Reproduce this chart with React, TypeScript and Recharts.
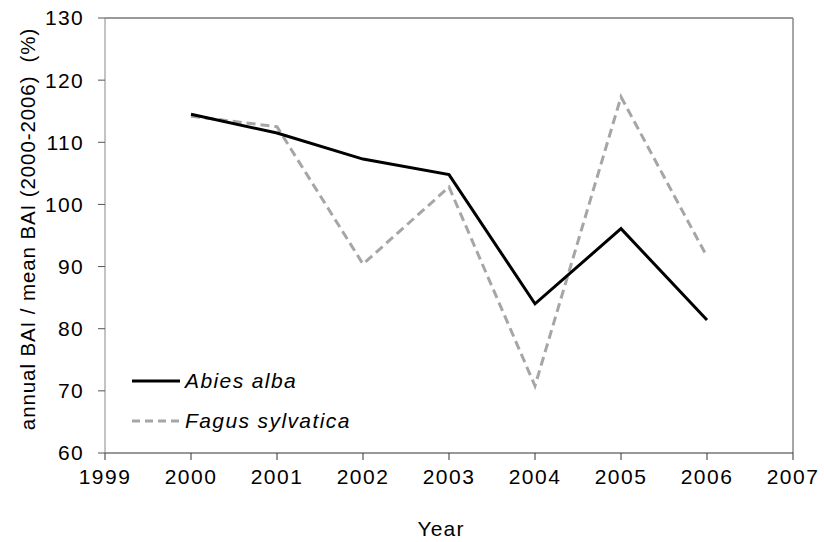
import React from 'react';
import { LineChart, Line, XAxis, YAxis, ReferenceLine, Label } from 'recharts';

const years = [2000, 2001, 2002, 2003, 2004, 2005, 2006];
const abiesAlba = [114.5, 111.5, 107.3, 104.8, 84.0, 96.1, 81.4];
const fagusSylvatica = [114.2, 112.5, 90.4, 102.8, 70.8, 117.3, 91.6];
const xTicks = [1999, 2000, 2001, 2002, 2003, 2004, 2005, 2006, 2007];
const yTicks = [60, 70, 80, 90, 100, 110, 120, 130];
const seriesNames = ['Abies alba', 'Fagus sylvatica'];

const data = years.map((y, i) => ({ year: y, abies: abiesAlba[i], fagus: fagusSylvatica[i] }));

const FONT = '"Liberation Sans", Arial, sans-serif';

const LegendBox = () => (
  <svg width={260} height={70} style={{ display: 'block' }}>
    <line x1={7} y1={16} x2={55} y2={16} stroke="#000" strokeWidth={3} />
    <text x={60} y={23} fontFamily={FONT} fontSize={21} fontStyle="italic" letterSpacing={1.4} fill="#000">
      {seriesNames[0]}
    </text>
    <line x1={7} y1={56} x2={55} y2={56} stroke="#a6a6a6" strokeWidth={3} strokeDasharray="8 5" />
    <text x={60} y={63} fontFamily={FONT} fontSize={21} fontStyle="italic" letterSpacing={1.4} fill="#000">
      {seriesNames[1]}
    </text>
  </svg>
);

export default function App() {
  return (
    <div style={{ position: 'absolute', left: 0, top: 0, width: 824, height: 542, background: '#fff' }}>
      <LineChart width={824} height={542} data={data} margin={{ top: 18, right: 31, bottom: 0, left: 0 }}>
        <XAxis
          dataKey="year"
          type="number"
          domain={[1999, 2007]}
          ticks={xTicks}
          allowDecimals={false}
          height={89}
          stroke="#333"
          tickSize={7}
          tickMargin={9}
          tick={{ fill: '#000', fontSize: 21, fontFamily: FONT, letterSpacing: 1.5 }}
        >
          <Label
            content={() => (
              <text x={441} y={536} textAnchor="middle" fontFamily={FONT} fontSize={21} letterSpacing={1.2} fill="#000">
                Year
              </text>
            )}
          />
        </XAxis>
        <YAxis
          type="number"
          domain={[60, 130]}
          ticks={yTicks}
          width={105}
          stroke="#888"
          tickLine={{ stroke: '#555' }}
          tickSize={7}
          tickMargin={14}
          tick={{ fill: '#000', fontSize: 21, fontFamily: FONT, letterSpacing: 1.3 }}
        >
          <Label
            content={() => (
              <text
                x={27}
                y={229}
                transform="rotate(-90 27 229)"
                textAnchor="middle"
                dominantBaseline="central"
                fontFamily={FONT}
                fontSize={20.5}
                letterSpacing={0.9}
                fill="#000"
                style={{ whiteSpace: 'pre' }}
              >
                {'annual BAI / mean BAI (2000-2006)  (%)'}
              </text>
            )}
          />
        </YAxis>
        <ReferenceLine y={130} stroke="#333" strokeWidth={1} />
        <ReferenceLine x={2007} stroke="#888" strokeWidth={1.5} />
        <Line
          type="linear"
          dataKey="fagus"
          name={seriesNames[1]}
          stroke="#a6a6a6"
          strokeWidth={3}
          strokeDasharray="9 5"
          dot={false}
          activeDot={false}
          isAnimationActive={false}
        />
        <Line
          type="linear"
          dataKey="abies"
          name={seriesNames[0]}
          stroke="#000"
          strokeWidth={3}
          dot={false}
          activeDot={false}
          isAnimationActive={false}
        />
      </LineChart>
      <div style={{ position: 'absolute', left: 125, top: 365 }}>
        <LegendBox />
      </div>
    </div>
  );
}
